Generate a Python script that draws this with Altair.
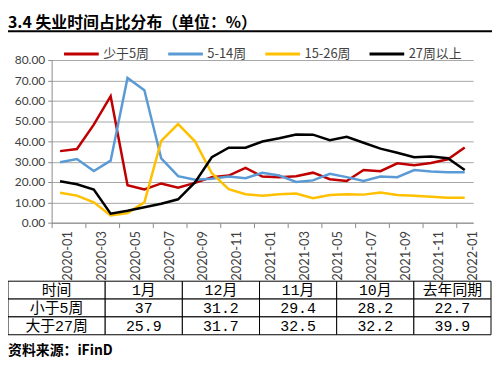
import altair as alt
import pandas as pd

# ---------------- data ----------------
months = ["2020-01", "2020-02", "2020-03", "2020-04", "2020-05", "2020-06",
          "2020-07", "2020-08", "2020-09", "2020-10", "2020-11", "2020-12",
          "2021-01", "2021-02", "2021-03", "2021-04", "2021-05", "2021-06",
          "2021-07", "2021-08", "2021-09", "2021-10", "2021-11", "2021-12",
          "2022-01"]
series_names = ["少于5周", "5-14周", "15-26周", "27周以上"]
series_colors = ["#C00000", "#5B9BD5", "#FFC000", "#000000"]

less5 = [35.2, 36.2, 48.2, 62.2, 18.4, 16.3, 19.3, 17.2, 19.6, 22.4, 23.2, 26.9,
         22.7, 22.4, 22.8, 24.6, 21.4, 20.5, 25.9, 25.3, 29.2, 28.2, 29.4, 31.2, 37.0]
w5_14 = [29.7, 31.3, 25.4, 30.5, 71.2, 65.1, 31.6, 22.9, 21.1, 21.6, 22.7, 21.9,
         24.5, 23.2, 20.0, 20.8, 24.0, 22.4, 20.5, 22.7, 22.4, 25.9, 25.2, 24.8, 24.8]
w15_26 = [14.7, 13.3, 10.0, 3.6, 4.7, 10.0, 40.2, 48.5, 40.0, 24.3, 16.5, 14.0,
          13.3, 14.0, 14.3, 12.0, 13.6, 14.0, 13.8, 14.8, 13.6, 13.3, 12.8, 12.3, 12.3]
over27 = [20.4, 18.9, 16.3, 4.4, 5.9, 7.6, 9.3, 11.5, 19.8, 32.2, 36.9, 36.9,
          39.9, 41.5, 43.4, 43.3, 40.6, 42.2, 39.3, 36.4, 34.4, 32.2, 32.5, 31.7, 25.9]

table_header = ["时间", "1月", "12月", "11月", "10月", "去年同期"]
table_row_names = ["小于5周", "大于27周"]
table_less5 = [37, 31.2, 29.4, 28.2, 22.7]
table_over27 = [25.9, 31.7, 32.5, 32.2, 39.9]

title_text = "3.4 失业时间占比分布（单位：%）"
source_text = "资料来源：iFinD"

# ---------------- tables for the library ----------------
series_values = [less5, w5_14, w15_26, over27]
line_rows = []
for name, vals in zip(series_names, series_values):
    for m, v in zip(months, vals):
        line_rows.append({"month": m, "value": v, "series": name})
line_df = pd.DataFrame(line_rows)

row_keys = ["r0", "r1", "r2"]
col_keys = ["c0", "c1", "c2", "c3", "c4", "c5"]
grid = [table_header,
        [table_row_names[0]] + [str(v) for v in table_less5],
        [table_row_names[1]] + [str(v) for v in table_over27]]
cells = []
for rk, row in zip(row_keys, grid):
    for ck, txt in zip(col_keys, row):
        cells.append({"row": rk, "col": ck, "text": txt})
cell_df = pd.DataFrame(cells)
first_df = cell_df[cell_df["col"] == "c0"]
rest_df = cell_df[cell_df["col"] != "c0"]

# ---------------- layout ----------------
W, H = 425, 164
band = W / len(months)
CJK = "Noto Sans CJK SC"
AX = "Lato"
TABLE_RANGE = [223, 277]

lines = alt.Chart(line_df).mark_line(strokeWidth=2.5).encode(
    x=alt.X("month:O", bandPosition=0.5,
            scale=alt.Scale(type="band", domain=months, paddingInner=0, paddingOuter=0),
            axis=alt.Axis(values=months[::2], bandPosition=0, labelOffset=band / 2,
                          labelAngle=270, title=None, grid=False, tickSize=5,
                          labelPadding=3, labelFont=AX, labelFontSize=13,
                          labelColor="#404040", domainColor="#8c8c8c",
                          tickColor="#8c8c8c")),
    y=alt.Y("value:Q", scale=alt.Scale(domain=[0, 80], nice=False),
            axis=alt.Axis(values=list(range(0, 81, 10)), format=".2f", title=None,
                          grid=True, gridColor="#a6a6a6", tickSize=4, labelPadding=3,
                          labelFont=AX, labelFontSize=12, labelColor="#404040",
                          domainColor="#8c8c8c", tickColor="#8c8c8c")),
    color=alt.Color("series:N",
                    scale=alt.Scale(domain=series_names, range=series_colors),
                    legend=alt.Legend(orient="none", legendX=11, legendY=-25,
                                      direction="horizontal", columns=4, title=None,
                                      symbolType="stroke", symbolSize=1225,
                                      symbolStrokeWidth=3, labelFont=CJK,
                                      labelFontSize=13, labelColor="#404040",
                                      labelOffset=3, columnPadding=12)),
)

tbl_y = alt.Y("row:O", bandPosition=0.5,
              scale=alt.Scale(type="band", domain=row_keys, range=TABLE_RANGE,
                              paddingInner=0, paddingOuter=0),
              axis=None)
tbl_y_rect = alt.Y("row:O",
                   scale=alt.Scale(type="band", domain=row_keys, range=TABLE_RANGE,
                                   paddingInner=0, paddingOuter=0),
                   axis=None)


def table_part(df, keys, rng):
    xs = alt.Scale(type="band", domain=keys, range=rng, paddingInner=0, paddingOuter=0)
    base = alt.Chart(df)
    rect = base.mark_rect(fill="white", stroke="black", strokeWidth=1).encode(
        x=alt.X("col:O", scale=xs, axis=None), y=tbl_y_rect)
    txt = base.mark_text(font="Liberation Mono, " + CJK, fontSize=15, color="black").encode(
        x=alt.X("col:O", scale=xs, axis=None, bandPosition=0.5), y=tbl_y, text="text:N")
    return alt.layer(rect, txt)


tbl1 = table_part(first_df, ["c0"], [-44, 54])
tbl2 = table_part(rest_df, col_keys[1:], [54, 443])

title_df = pd.DataFrame({"t": [title_text]})
underline = alt.Chart(title_df).mark_rule(color="black", strokeWidth=2).encode(
    x=alt.value(-44), x2=alt.value(444), y=alt.value(-29))
title_mark = alt.Chart(title_df).mark_text(
    align="left", baseline="alphabetic", font=CJK, fontSize=16, fontWeight="bold",
    color="black").encode(x=alt.value(-44), y=alt.value(-32), text="t:N")
source_mark = alt.Chart(pd.DataFrame({"t": [source_text]})).mark_text(
    align="left", baseline="alphabetic", font=CJK, fontSize=14, fontWeight="bold",
    color="black").encode(x=alt.value(-44), y=alt.value(297), text="t:N")

chart = alt.layer(lines, tbl1, tbl2, underline, title_mark, source_mark).resolve_scale(
    x="independent", y="independent"
).properties(
    width=W, height=H,
    autosize=alt.AutoSizeParams(type="none"),
    padding={"left": 44, "top": 51, "right": 19, "bottom": 137},
).configure_view(stroke="transparent")

chart.save("out.html", embed_options={"renderer": "svg", "actions": False})
